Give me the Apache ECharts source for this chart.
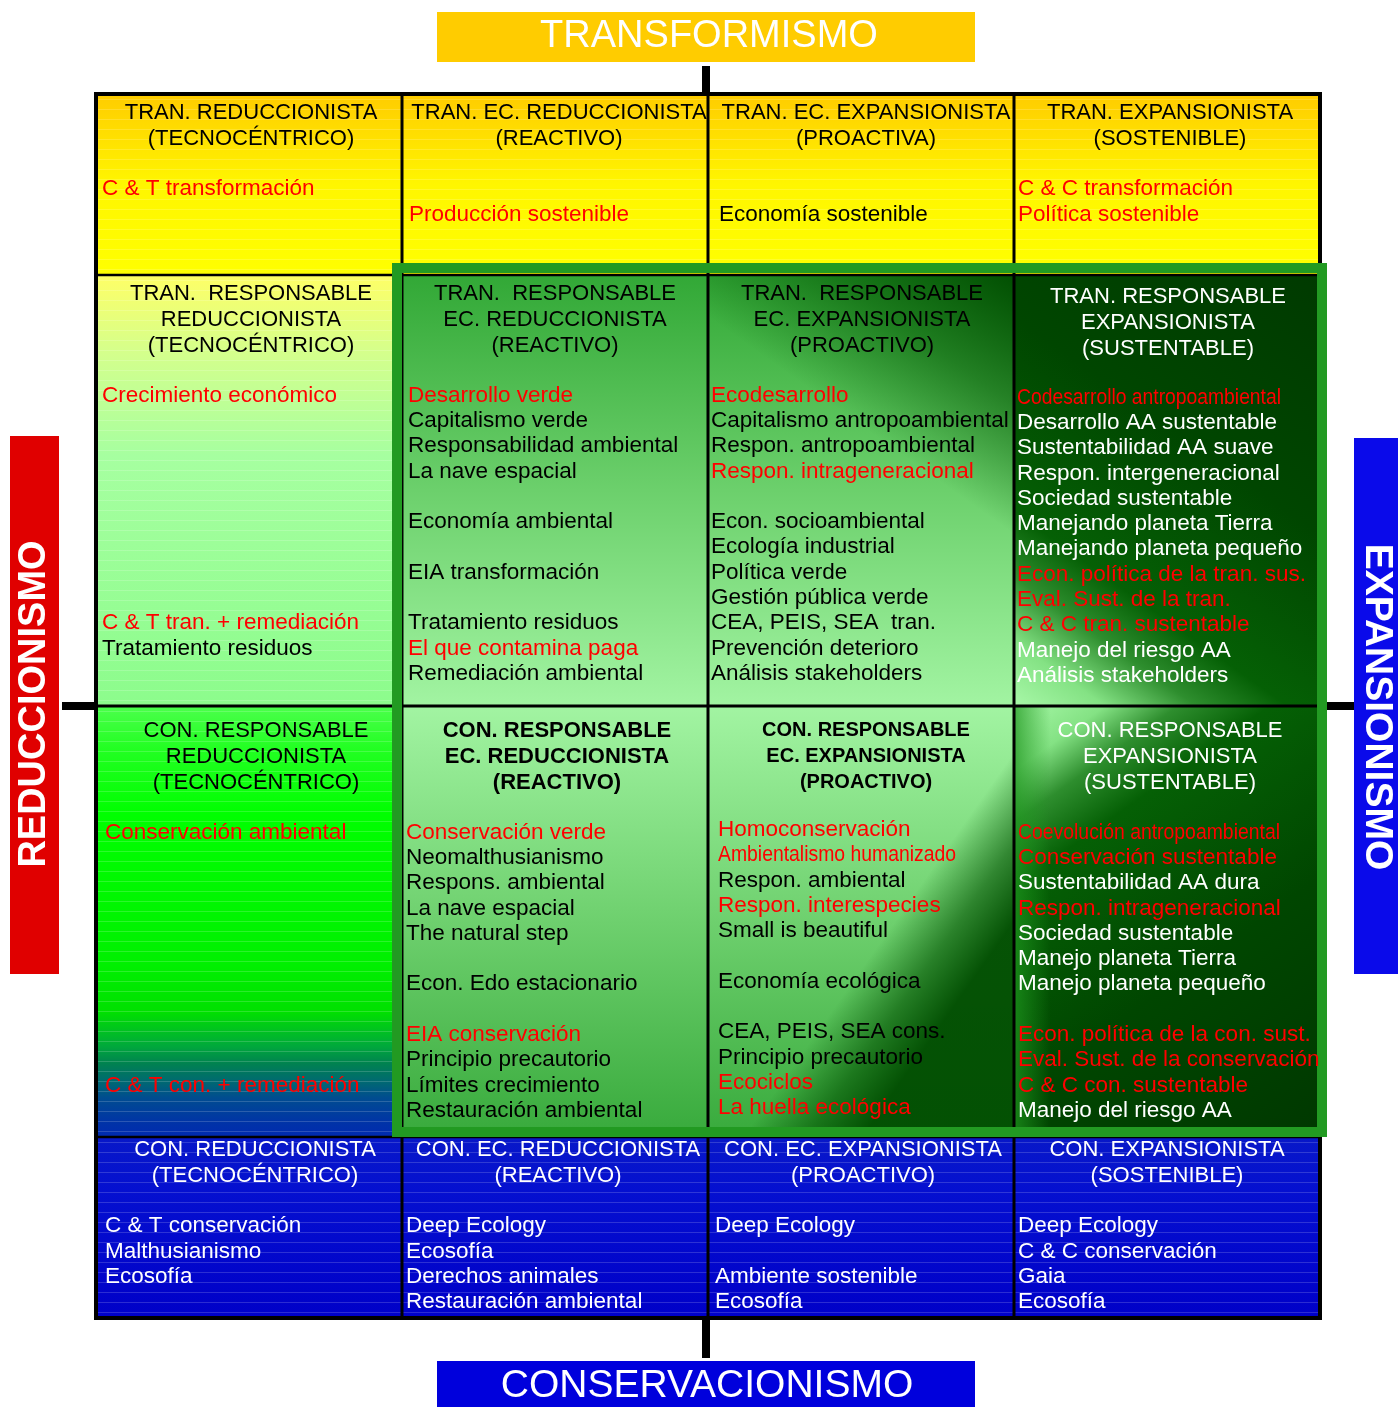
<!DOCTYPE html>
<html><head><meta charset="utf-8">
<script src="https://cdn.jsdelivr.net/npm/echarts@6/dist/echarts.min.js"></script>
<style>html,body{margin:0;padding:0;background:#fff}#c{width:1398px;height:1407px}</style>
</head><body><div id="c"></div>
<script>
// ---------------- DATA ----------------
const axisTitleTop = 'TRANSFORMISMO';
const axisTitleBottom = 'CONSERVACIONISMO';
const axisTitleLeft = 'REDUCCIONISMO';
const axisTitleRight = 'EXPANSIONISMO';

const headersRow1 = [
  ['TRAN. REDUCCIONISTA', '(TECNOCÉNTRICO)'],
  ['TRAN. EC. REDUCCIONISTA', '(REACTIVO)'],
  ['TRAN. EC. EXPANSIONISTA', '(PROACTIVA)'],
  ['TRAN. EXPANSIONISTA', '(SOSTENIBLE)']
];
const headersRow2 = [
  ['TRAN.  RESPONSABLE', 'REDUCCIONISTA', '(TECNOCÉNTRICO)'],
  ['TRAN.  RESPONSABLE', 'EC. REDUCCIONISTA', '(REACTIVO)'],
  ['TRAN.  RESPONSABLE', 'EC. EXPANSIONISTA', '(PROACTIVO)'],
  ['TRAN. RESPONSABLE', 'EXPANSIONISTA', '(SUSTENTABLE)']
];
const headersRow3 = [
  ['CON. RESPONSABLE', 'REDUCCIONISTA', '(TECNOCÉNTRICO)'],
  ['CON. RESPONSABLE', 'EC. REDUCCIONISTA', '(REACTIVO)'],
  ['CON. RESPONSABLE', 'EC. EXPANSIONISTA', '(PROACTIVO)'],
  ['CON. RESPONSABLE', 'EXPANSIONISTA', '(SUSTENTABLE)']
];
const headersRow4 = [
  ['CON. REDUCCIONISTA', '(TECNOCÉNTRICO)'],
  ['CON. EC. REDUCCIONISTA', '(REACTIVO)'],
  ['CON. EC. EXPANSIONISTA', '(PROACTIVO)'],
  ['CON. EXPANSIONISTA', '(SOSTENIBLE)']
];

// [column, line slot, text, highlighted (red)]
const itemsRow1 = [
  [0, 0, 'C & T transformación', 1],
  [1, 1, 'Producción sostenible', 1],
  [2, 1, 'Economía sostenible', 0],
  [3, 0, 'C & C transformación', 1],
  [3, 1, 'Política sostenible', 1]
];
const itemsRow2 = [
  [0, 0, 'Crecimiento económico', 1],
  [0, 9, 'C & T tran. + remediación', 1],
  [0, 10, 'Tratamiento residuos', 0],
  [1, 0, 'Desarrollo verde', 1],
  [1, 1, 'Capitalismo verde', 0],
  [1, 2, 'Responsabilidad ambiental', 0],
  [1, 3, 'La nave espacial', 0],
  [1, 5, 'Economía ambiental', 0],
  [1, 7, 'EIA transformación', 0],
  [1, 9, 'Tratamiento residuos', 0],
  [1, 10, 'El que contamina paga', 1],
  [1, 11, 'Remediación ambiental', 0],
  [2, 0, 'Ecodesarrollo', 1],
  [2, 1, 'Capitalismo antropoambiental', 0],
  [2, 2, 'Respon. antropoambiental', 0],
  [2, 3, 'Respon. intrageneracional', 1],
  [2, 5, 'Econ. socioambiental', 0],
  [2, 6, 'Ecología industrial', 0],
  [2, 7, 'Política verde', 0],
  [2, 8, 'Gestión pública verde', 0],
  [2, 9, 'CEA, PEIS, SEA  tran.', 0],
  [2, 10, 'Prevención deterioro', 0],
  [2, 11, 'Análisis stakeholders', 0],
  [3, 0, 'Codesarrollo antropoambiental', 1],
  [3, 1, 'Desarrollo AA sustentable', 0],
  [3, 2, 'Sustentabilidad AA suave', 0],
  [3, 3, 'Respon. intergeneracional', 0],
  [3, 4, 'Sociedad sustentable', 0],
  [3, 5, 'Manejando planeta Tierra', 0],
  [3, 6, 'Manejando planeta pequeño', 0],
  [3, 7, 'Econ. política de la tran. sus.', 1],
  [3, 8, 'Eval. Sust. de la tran.', 1],
  [3, 9, 'C & C tran. sustentable', 1],
  [3, 10, 'Manejo del riesgo AA', 0],
  [3, 11, 'Análisis stakeholders', 0]
];
const itemsRow3 = [
  [0, 0, 'Conservación ambiental', 1],
  [0, 10, 'C & T con. + remediación', 1],
  [1, 0, 'Conservación verde', 1],
  [1, 1, 'Neomalthusianismo', 0],
  [1, 2, 'Respons. ambiental', 0],
  [1, 3, 'La nave espacial', 0],
  [1, 4, 'The natural step', 0],
  [1, 6, 'Econ. Edo estacionario', 0],
  [1, 8, 'EIA conservación', 1],
  [1, 9, 'Principio precautorio', 0],
  [1, 10, 'Límites crecimiento', 0],
  [1, 11, 'Restauración ambiental', 0],
  [2, 0, 'Homoconservación', 1],
  [2, 1, 'Ambientalismo humanizado', 1],
  [2, 2, 'Respon. ambiental', 0],
  [2, 3, 'Respon. interespecies', 1],
  [2, 4, 'Small is beautiful', 0],
  [2, 6, 'Economía ecológica', 0],
  [2, 8, 'CEA, PEIS, SEA cons.', 0],
  [2, 9, 'Principio precautorio', 0],
  [2, 10, 'Ecociclos', 1],
  [2, 11, 'La huella ecológica', 1],
  [3, 0, 'Coevolución antropoambiental', 1],
  [3, 1, 'Conservación sustentable', 1],
  [3, 2, 'Sustentabilidad AA dura', 0],
  [3, 3, 'Respon. intrageneracional', 1],
  [3, 4, 'Sociedad sustentable', 0],
  [3, 5, 'Manejo planeta Tierra', 0],
  [3, 6, 'Manejo planeta pequeño', 0],
  [3, 8, 'Econ. política de la con. sust.', 1],
  [3, 9, 'Eval. Sust. de la conservación', 1],
  [3, 10, 'C & C con. sustentable', 1],
  [3, 11, 'Manejo del riesgo AA', 0]
];
const itemsRow4 = [
  [0, 0, 'C & T conservación', 0],
  [0, 1, 'Malthusianismo', 0],
  [0, 2, 'Ecosofía', 0],
  [1, 0, 'Deep Ecology', 0],
  [1, 1, 'Ecosofía', 0],
  [1, 2, 'Derechos animales', 0],
  [1, 3, 'Restauración ambiental', 0],
  [2, 0, 'Deep Ecology', 0],
  [2, 2, 'Ambiente sostenible', 0],
  [2, 3, 'Ecosofía', 0],
  [3, 0, 'Deep Ecology', 0],
  [3, 1, 'C & C conservación', 0],
  [3, 2, 'Gaia', 0],
  [3, 3, 'Ecosofía', 0]
];

// ---------------- LAYOUT / STYLE ----------------
const FAM = '"Liberation Sans", Arial, sans-serif';
const Y_MAX = 48.4;                       // y axis in text-line units
const rowEdges = [0, 7.16, 24.2, 41.24, 48.4];
const rowBase = [0.76, 7.92, 25.2, 41.77];
const headerStep = 1.03;
const itemPad = [[6, 7, 11, 4], [6, 6, 3, 3], [9, 4, 10, 4], [9, 4, 7, 4]];
const headerDx = [[2, 4, 5, 3], [2, 0, 1, 1], [7, 2, 5, 3], [6, 3, 2, 0]];
const condensed = {
  'Codesarrollo antropoambiental': 264,
  'Coevolución antropoambiental': 262,
  'Ambientalismo humanizado': 238
};
const RED = '#ff0000';

const headersAll = [headersRow1, headersRow2, headersRow3, headersRow4];
const itemsAll = [itemsRow1, itemsRow2, itemsRow3, itemsRow4];

function whiteCell(r, c) { return r === 3 || (c === 3 && (r === 1 || r === 2)); }

const mctx = document.createElement('canvas').getContext('2d');
function scaleFor(text, font) {
  if (!condensed[text]) return 1;
  mctx.font = font;
  const w = mctx.measureText(text).width;
  return Math.min(1, condensed[text] / w);
}

const textMeta = [];
headersAll.forEach((rowH, r) => {
  rowH.forEach((lines, c) => {
    const bold = (r === 2 && (c === 1 || c === 2));
    const size = (r === 2 && c === 2) ? 20 : 22;
    const font = (bold ? 'bold ' : '') + size + 'px ' + FAM;
    const shift = (r === 1 && c === 3) ? 0.1 : (r === 2 && c === 2 ? -0.05 : 0);
    lines.forEach((t, i) => {
      textMeta.push({
        x: c + 0.5, y: rowBase[r] + i * headerStep + shift, text: t,
        dx: headerDx[r][c], align: 'center', font: font,
        fill: whiteCell(r, c) ? '#ffffff' : '#000000', sx: 1
      });
    });
  });
});
itemsAll.forEach((rowI, r) => {
  rowI.forEach(it => {
    const c = it[0], slot = it[1], t = it[2], hl = it[3];
    const font = '22.5px ' + FAM;
    const nh = headersAll[r][c].length;
    const shift = (r === 2 && c === 2) ? -0.1 : (r === 1 && c === 3 ? 0.08 : 0);
    textMeta.push({
      x: c, y: rowBase[r] + nh + 1 + slot + shift, text: t,
      dx: itemPad[r][c], align: 'left', font: font,
      fill: hl ? RED : (whiteCell(r, c) ? '#ffffff' : '#000000'),
      sx: scaleFor(t, font)
    });
  });
});

function lin(x, y, x2, y2, stops) {
  return { type: 'linear', x: x, y: y, x2: x2, y2: y2,
    colorStops: stops.map(s => ({ offset: s[0], color: s[1] })) };
}
const yellowFill = lin(0, 0, 0, 1, [[0, '#ffcc00'], [0.5, '#fff600'], [1, '#ffff00']]);
const blueFill = lin(0, 0, 0, 1, [[0, '#0818c8'], [0.3, '#0510d0'], [1, '#0000c8']]);
const col0r1 = lin(0, 0, 0, 1, [[0, '#ffff66'], [0.18, '#d4ff8c'], [0.42, '#a6ffa0'], [1, '#8cfc8c']]);
const col0r2 = lin(0, 0, 0, 1, [[0, '#4cff4c'], [0.1, '#22ff22'], [0.25, '#00ff00'], [0.6, '#00f000'],
  [0.71, '#00e000'], [0.79, '#00a83c'], [0.83, '#008250'], [0.87, '#006a70'], [0.91, '#004c90'],
  [0.97, '#0032a8'], [1, '#002ab0']]);
const greenUp = lin(0, 0, 0, 1, [[0, '#32a836'], [0.5, '#6cd06c'], [1, '#a2f4a2']]);
const greenDown = lin(0, 0, 0, 1, [[0, '#a2f4a2'], [0.5, '#6ed06e'], [1, '#38aa3c']]);
const darkOverUp = lin(0, 1, 1, 0, [[0, 'rgba(0,80,0,0)'], [0.6, 'rgba(0,80,0,0)'], [0.8, 'rgba(0,80,0,0.55)'], [1, 'rgba(0,76,0,0.97)']]);
const darkOverDown = lin(0, 0, 1, 0.5, [[0, 'rgba(0,80,0,0)'], [0.74, 'rgba(0,80,0,0)'], [0.88, 'rgba(0,80,0,0.6)'], [1, 'rgba(0,76,0,0.95)']]);
const darkWedgeUp = lin(0, 1, 1, 0, [[0, '#a8f8a8'], [0.1, '#84e284'], [0.2, '#2e8e2e'], [0.3, '#056005'], [0.6, '#004600'], [1, '#003a00']]);
const darkWedgeDown = lin(0, 0, 1, 1, [[0, '#a8f8a8'], [0.1, '#84e284'], [0.18, '#2e8e2e'], [0.28, '#056005'], [0.6, '#004600'], [1, '#003800']]);
const leftGlow = lin(0, 0, 1, 0, [[0, 'rgba(30,150,30,0.75)'], [0.12, 'rgba(30,150,30,0)'], [1, 'rgba(30,150,30,0)']]);

function cellLayers(r, c) {
  if (r === 0) return { fills: [yellowFill], stripes: true };
  if (r === 3) return { fills: [blueFill], stripes: true };
  if (c === 0) return { fills: [r === 1 ? col0r1 : col0r2], stripes: true };
  if (r === 1) {
    if (c === 1) return { fills: [greenUp] };
    if (c === 2) return { fills: [greenUp, darkOverUp] };
    return { fills: [darkWedgeUp] };
  }
  if (c === 1) return { fills: [greenDown] };
  if (c === 2) return { fills: [greenDown, darkOverDown] };
  return { fills: [darkWedgeDown, leftGlow] };
}

const cellData = [];
for (let r = 0; r < 4; r++) for (let c = 0; c < 4; c++) cellData.push([c, r]);

const chart = echarts.init(document.getElementById('c'), null, { renderer: 'canvas', width: 1398, height: 1407 });

const option = {
  animation: false,
  backgroundColor: '#ffffff',
  grid: { left: 96, top: 94, width: 1224, height: 1224, containLabel: false },
  xAxis: { type: 'value', min: 0, max: 4, show: false },
  yAxis: { type: 'value', min: 0, max: Y_MAX, inverse: true, show: false },
  graphic: [
    { type: 'rect', shape: { x: 437, y: 12, width: 538, height: 50 }, style: { fill: '#ffcc00' }, z: 10 },
    { type: 'text', x: 709, y: 37, z: 11, style: { text: axisTitleTop, fill: '#ffffff', font: '38px ' + FAM, align: 'center', verticalAlign: 'middle' } },
    { type: 'rect', shape: { x: 437, y: 1361, width: 538, height: 46 }, style: { fill: '#0000dc' }, z: 10 },
    { type: 'text', x: 707, y: 1386, z: 11, style: { text: axisTitleBottom, fill: '#ffffff', font: '39px ' + FAM, align: 'center', verticalAlign: 'middle' } },
    { type: 'rect', shape: { x: 10, y: 436, width: 49, height: 538 }, style: { fill: '#e00000' }, z: 10 },
    { type: 'text', x: 35, y: 704, rotation: Math.PI / 2, z: 11, style: { text: axisTitleLeft, fill: '#ffffff', font: 'bold 38px ' + FAM, align: 'center', verticalAlign: 'middle' } },
    { type: 'rect', shape: { x: 1354, y: 438, width: 44, height: 536 }, style: { fill: '#0a0aea' }, z: 10 },
    { type: 'text', x: 1377, y: 707, rotation: -Math.PI / 2, z: 11, style: { text: axisTitleRight, fill: '#ffffff', font: 'bold 39px ' + FAM, align: 'center', verticalAlign: 'middle' } }
  ],
  series: [
    {
      type: 'custom', name: 'cells', z: 1, silent: true,
      encode: { x: 0, y: 1 },
      data: cellData,
      renderItem: function (params, api) {
        const c = api.value(0), r = api.value(1);
        const p0 = api.coord([c, rowEdges[r]]);
        const p1 = api.coord([c + 1, rowEdges[r + 1]]);
        const x = p0[0], y = p0[1], w = p1[0] - p0[0], h = p1[1] - p0[1];
        const L = cellLayers(r, c);
        const children = L.fills.map(f => ({ type: 'rect', shape: { x: x, y: y, width: w, height: h }, style: { fill: f } }));
        if (L.stripes) {
          for (let yy = y + 5; yy < y + h - 1; yy += 10) {
            children.push({ type: 'rect', shape: { x: x, y: yy, width: w, height: 1 }, style: { fill: 'rgba(255,255,255,0.17)' } });
          }
        }
        return { type: 'group', children: children };
      }
    },
    {
      type: 'custom', name: 'frame', z: 2, silent: true,
      encode: { x: 0, y: 1 },
      data: [[0, 0]],
      renderItem: function (params, api) {
        const tl = api.coord([0, 0]);
        const br = api.coord([4, Y_MAX]);
        const ch = [];
        [1, 2, 3].forEach(cx => {
          const a = api.coord([cx, 0]);
          ch.push({ type: 'line', shape: { x1: a[0], y1: tl[1], x2: a[0], y2: br[1] }, style: { stroke: '#000', lineWidth: 3 } });
        });
        [1, 2, 3].forEach(i => {
          const a = api.coord([0, rowEdges[i]]);
          ch.push({ type: 'line', shape: { x1: tl[0], y1: a[1], x2: br[0], y2: a[1] }, style: { stroke: '#000', lineWidth: i === 2 ? 3 : 2.5 } });
        });
        ch.push({ type: 'rect', shape: { x: tl[0], y: tl[1], width: br[0] - tl[0], height: br[1] - tl[1] }, style: { fill: 'none', stroke: '#000', lineWidth: 4 } });
        const mid = api.coord([2, rowEdges[2]]);
        ch.push({ type: 'rect', shape: { x: mid[0] - 6, y: tl[1] - 28, width: 8, height: 28 }, style: { fill: '#000' } });
        ch.push({ type: 'rect', shape: { x: mid[0] - 6, y: br[1], width: 8, height: 40 }, style: { fill: '#000' } });
        ch.push({ type: 'rect', shape: { x: tl[0] - 34, y: mid[1] - 4, width: 34, height: 8 }, style: { fill: '#000' } });
        ch.push({ type: 'rect', shape: { x: br[0], y: mid[1] - 4, width: 35, height: 8 }, style: { fill: '#000' } });
        const g0 = api.coord([1, rowEdges[1]]);
        const g1 = api.coord([4, rowEdges[3]]);
        ch.push({ type: 'rect', shape: { x: g0[0] - 5, y: g0[1] - 7, width: (g1[0] + 2) - (g0[0] - 5), height: (g1[1] - 5) - (g0[1] - 7) },
          style: { fill: 'none', stroke: '#229a22', lineWidth: 10 } });
        return { type: 'group', children: ch };
      }
    },
    {
      type: 'custom', name: 'texts', z: 3, silent: true,
      encode: { x: 0, y: 1 },
      data: textMeta.map(m => [m.x, m.y]),
      renderItem: function (params, api) {
        const m = textMeta[params.dataIndex];
        const p = api.coord([api.value(0), api.value(1)]);
        const el = {
          type: 'text', x: p[0] + m.dx, y: p[1],
          style: { text: m.text, fill: m.fill, font: m.font, align: m.align, verticalAlign: 'middle' }
        };
        if (m.sx !== 1) el.scaleX = m.sx;
        return el;
      }
    }
  ]
};
chart.setOption(option);
</script>
</body></html>
